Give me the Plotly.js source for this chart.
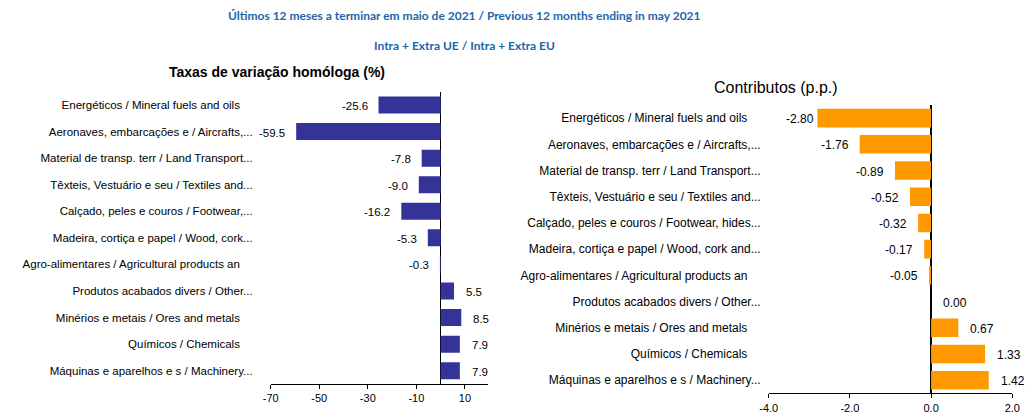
<!DOCTYPE html>
<html>
<head>
<meta charset="utf-8">
<script src="https://cdn.plot.ly/plotly-3.0.1.min.js"></script>
<style>html,body{margin:0;padding:0;background:#fff;}#chart{width:1033px;height:417px;}</style>
</head>
<body>
<div id="chart"></div>
<script>
const categoriesLeft = [
  "Energéticos / Mineral fuels and oils",
  "Aeronaves, embarcações e / Aircrafts,...",
  "Material de transp. terr / Land Transport...",
  "Têxteis, Vestuário e seu / Textiles and...",
  "Calçado, peles e couros / Footwear,...",
  "Madeira, cortiça e papel / Wood, cork...",
  "Agro-alimentares / Agricultural products an",
  "Produtos acabados divers / Other...",
  "Minérios e metais / Ores and metals",
  "Químicos / Chemicals",
  "Máquinas e aparelhos e s / Machinery..."
];
const categoriesRight = [
  "Energéticos / Mineral fuels and oils",
  "Aeronaves, embarcações e / Aircrafts,...",
  "Material de transp. terr / Land Transport...",
  "Têxteis, Vestuário e seu / Textiles and...",
  "Calçado, peles e couros / Footwear, hides...",
  "Madeira, cortiça e papel / Wood, cork and...",
  "Agro-alimentares / Agricultural products an",
  "Produtos acabados divers / Other...",
  "Minérios e metais / Ores and metals",
  "Químicos / Chemicals",
  "Máquinas e aparelhos e s / Machinery..."
];
const growthRates = [-25.6, -59.5, -7.8, -9.0, -16.2, -5.3, -0.3, 5.5, 8.5, 7.9, 7.9];
const contributions = [-2.80, -1.76, -0.89, -0.52, -0.32, -0.17, -0.05, 0.00, 0.67, 1.33, 1.42];
const leftTickVals = [-70, -50, -30, -10, 10];
const rightTickVals = [-4, -2, 0, 2];

const mainTitle = "Últimos 12 meses a terminar em maio de 2021 / Previous 12 months ending in may 2021";
const subTitle = "Intra + Extra UE / Intra + Extra EU";
const leftTitle = "Taxas de variação homóloga (%)";
const rightTitle = "Contributos (p.p.)";

const FONT = "Liberation Sans, Arial, sans-serif";
const pad = s => s.endsWith("...") ? s : s + "\u00a0\u00a0\u00a0\u00a0";

const traces = [
  {type: "bar", orientation: "h", x: growthRates, y: categoriesLeft.map((c,i)=>i), width: 0.64,
   xaxis: "x", yaxis: "y", marker: {color: "#333399"}, hoverinfo: "x"},
  {type: "bar", orientation: "h", x: contributions, y: categoriesRight.map((c,i)=>i), width: 0.71,
   xaxis: "x2", yaxis: "y2", marker: {color: "#FF9900"}, hoverinfo: "x"}
];

const annotations = [];
growthRates.forEach((v,i) => annotations.push({
  xref: "x", yref: "y", x: v, y: i, text: v.toFixed(1), showarrow: false,
  xanchor: v < 0 ? "right" : "left", xshift: v < 0 ? -9 : 10, yshift: -1,
  font: {family: FONT, size: 11.5, color: "#000"}
}));
contributions.forEach((v,i) => annotations.push({
  xref: "x2", yref: "y2", x: v, y: i, text: v.toFixed(2), showarrow: false,
  xanchor: v < 0 ? "right" : "left", xshift: v < 0 ? (v < -2.5 ? -1 : -9) : 10, yshift: -1,
  font: {family: FONT, size: 12, color: "#000"}
}));
annotations.push(
  {xref: "paper", yref: "paper", x: 464/1033, y: 1 - 16/417, text: "<b>" + mainTitle + "</b>", showarrow: false,
   xanchor: "center", yanchor: "middle", font: {family: "Lato, sans-serif", size: 12, color: "#1c66aa"}},
  {xref: "paper", yref: "paper", x: 464/1033, y: 1 - 45/417, text: "<b>" + subTitle + "</b>", showarrow: false,
   xanchor: "center", yanchor: "middle", font: {family: "Lato, sans-serif", size: 12, color: "#1c66aa"}},
  {xref: "paper", yref: "paper", x: 277/1033, y: 1 - 72/417, text: "<b>" + leftTitle + "</b>", showarrow: false,
   xanchor: "center", yanchor: "middle", font: {family: FONT, size: 14, color: "#000"}},
  {xref: "paper", yref: "paper", x: 776/1033, y: 1 - 87/417, text: rightTitle, showarrow: false,
   xanchor: "center", yanchor: "middle", font: {family: FONT, size: 16, color: "#000"}}
);

const xcommon = {showline: true, linecolor: "#000", linewidth: 1, ticks: "outside", ticklen: 4,
  tickcolor: "#000", showgrid: false, zeroline: true, zerolinecolor: "#000", zerolinewidth: 1.3,
  tickfont: {family: FONT, size: 11, color: "#000"}, fixedrange: true};
const ycommon = {type: "linear", range: [10.5, -0.5], showgrid: false, zeroline: false, showline: false,
  ticks: "", tickmode: "array", tickvals: categoriesLeft.map((c,i)=>i), fixedrange: true};

const layout = {
  width: 1033, height: 417, margin: {l: 0, r: 0, t: 0, b: 0},
  paper_bgcolor: "#fff", plot_bgcolor: "#fff", showlegend: false,
  xaxis: Object.assign({}, xcommon, {domain: [270.7/1033, 488/1033], range: [-70, 19.5],
    tickmode: "array", tickvals: leftTickVals, ticktext: leftTickVals.map(String), anchor: "y"}),
  yaxis: Object.assign({}, ycommon, {domain: [1 - 384/417, 1 - 91.7/417], anchor: "x",
    ticktext: categoriesLeft.map(pad), ticklabelstandoff: 17,
    tickfont: {family: FONT, size: 11.5, color: "#000"}}),
  xaxis2: Object.assign({}, xcommon, {domain: [768.7/1033, 1012.3/1033], range: [-4, 2],
    tickmode: "array", tickvals: rightTickVals, ticktext: rightTickVals.map(v=>v.toFixed(1)), anchor: "y2"}),
  yaxis2: Object.assign({}, ycommon, {domain: [1 - 393.3/417, 1 - 105/417], anchor: "x2",
    ticktext: categoriesRight.map(pad), ticklabelstandoff: 7,
    tickfont: {family: FONT, size: 12, color: "#000"}}),
  annotations: annotations
};

Plotly.newPlot("chart", traces, layout, {displayModeBar: false, staticPlot: true});
</script>
</body>
</html>
